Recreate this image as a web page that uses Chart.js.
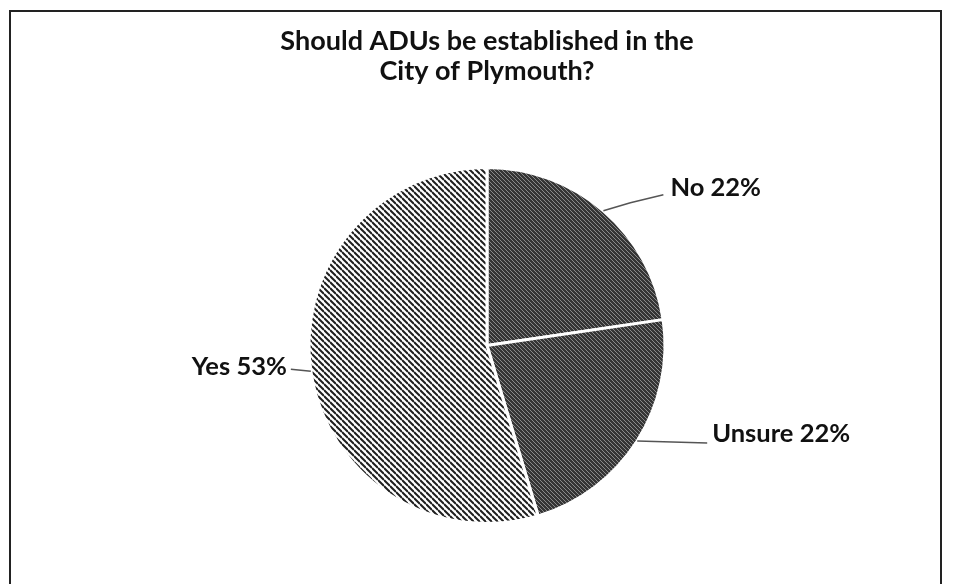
<!DOCTYPE html>
<html>
<head>
<meta charset="utf-8">
<script src="https://cdn.jsdelivr.net/npm/chart.js@4.4.1/dist/chart.umd.min.js"></script>
<style>
html, body { margin: 0; padding: 0; background: #fff; }
#wrap { position: relative; width: 953px; height: 584px; }
</style>
</head>
<body>
<div id="wrap"><canvas id="pie" width="953" height="584"></canvas></div>
<script>
const categories = ['No', 'Unsure', 'Yes'];
const percents = [22, 22, 53];
const titleLines = ['Should ADUs be established in the', 'City of Plymouth?'];

// hatch tiles, a bit like the scanned print
function makePattern(bg, line, width, size) {
  const c = document.createElement('canvas');
  c.width = size; c.height = size;
  const g = c.getContext('2d');
  g.fillStyle = bg;
  g.fillRect(0, 0, size, size);
  g.strokeStyle = line;
  g.lineWidth = width;
  for (let k = -1; k <= 1; k++) {
    g.beginPath();
    g.moveTo(0, k * size);
    g.lineTo(size, size + k * size);
    g.stroke();
  }
  return g.createPattern(c, 'repeat');
}

const darkFill = makePattern('#353535', '#8a8a8a', 1, 4);
const lightFill = makePattern('#ffffff', '#1e1e1e', 2, 6);

// leader line bends and text anchor for each slice, relative to the arc edge
const leaders = {
  No: { pts: [[27, -8], [60, -16]], text: [7, -7], align: 'left' },
  Unsure: { pts: [[70, 2]], text: [5, -9], align: 'left' },
  Yes: { pts: [[-20, -2]], text: [-4, -3], align: 'right' }
};

const framePlugin = {
  id: 'frame',
  beforeDraw(chart) {
    const ctx = chart.ctx;
    ctx.save();
    ctx.fillStyle = '#fff';
    ctx.fillRect(0, 0, chart.width, chart.height);
    ctx.strokeStyle = '#222';
    ctx.lineWidth = 2;
    ctx.beginPath();
    ctx.moveTo(10, chart.height);
    ctx.lineTo(10, 11);
    ctx.lineTo(941, 11);
    ctx.lineTo(941, chart.height);
    ctx.stroke();
    ctx.restore();
  }
};

const labelPlugin = {
  id: 'outLabels',
  afterDatasetsDraw(chart) {
    const ctx = chart.ctx;
    const meta = chart.getDatasetMeta(0);
    ctx.save();
    ctx.font = 'bold 25.5px Lato';
    ctx.fillStyle = '#111';
    ctx.textBaseline = 'middle';
    meta.data.forEach((arc, i) => {
      const p = arc.getProps(['x', 'y', 'startAngle', 'endAngle', 'outerRadius'], true);
      const mid = (p.startAngle + p.endAngle) / 2;
      const ex = p.x + Math.cos(mid) * p.outerRadius;
      const ey = p.y + Math.sin(mid) * p.outerRadius;
      const cfg = leaders[categories[i]];
      ctx.strokeStyle = '#555';
      ctx.lineWidth = 1.5;
      ctx.beginPath();
      ctx.moveTo(ex, ey);
      let lx = ex, ly = ey;
      cfg.pts.forEach(([dx, dy]) => {
        lx = ex + dx; ly = ey + dy;
        ctx.lineTo(lx, ly);
      });
      ctx.stroke();
      ctx.textAlign = cfg.align;
      ctx.fillText(categories[i] + ' ' + percents[i] + '%', lx + cfg.text[0], ly + cfg.text[1]);
    });
    ctx.restore();
  }
};

new Chart(document.getElementById('pie'), {
  type: 'pie',
  data: {
    labels: categories,
    datasets: [{
      data: percents,
      backgroundColor: [darkFill, darkFill, lightFill],
      borderColor: '#fff',
      borderWidth: 3
    }]
  },
  options: {
    responsive: false,
    animation: false,
    layout: { padding: { top: 0, bottom: 59, left: 21, right: 0 } },
    plugins: {
      legend: { display: false },
      tooltip: { enabled: false },
      title: {
        display: true,
        text: titleLines,
        color: '#111',
        font: { family: 'Lato', size: 27, weight: 'bold', lineHeight: 1.11 },
        padding: { top: 26, bottom: 80 }
      }
    }
  },
  plugins: [framePlugin, labelPlugin]
});
</script>
</body>
</html>
